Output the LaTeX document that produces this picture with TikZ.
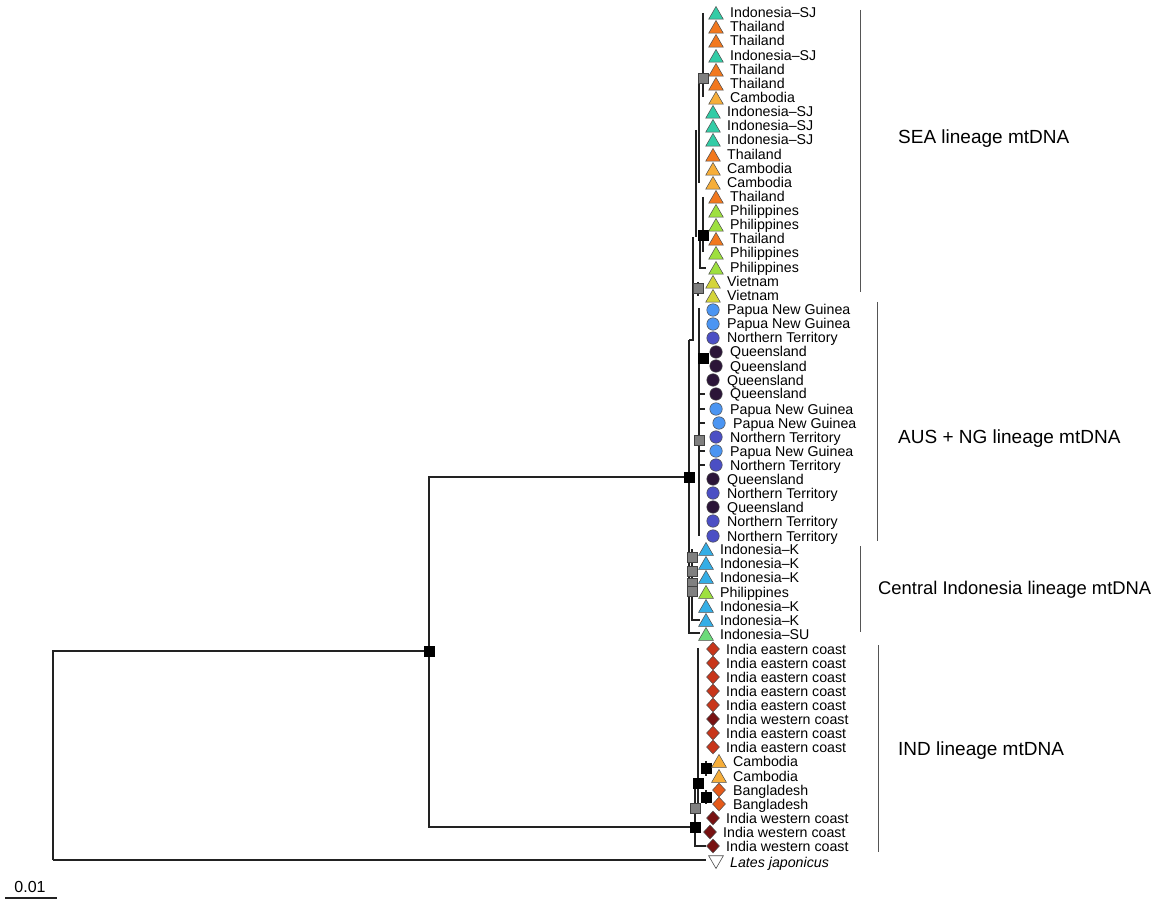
\documentclass[tikz,border=0pt]{standalone}
\usepackage{fontspec}
\setmainfont{Liberation Sans}
\usetikzlibrary{shapes.geometric}
\definecolor{csj}{HTML}{33CCA6}
\definecolor{cth}{HTML}{F2781E}
\definecolor{cca}{HTML}{F6AE3A}
\definecolor{cph}{HTML}{9EE03F}
\definecolor{cvn}{HTML}{D4D43A}
\definecolor{cpng}{HTML}{4B95F2}
\definecolor{cnt}{HTML}{4B4FC4}
\definecolor{cqld}{HTML}{2B1538}
\definecolor{cik}{HTML}{34AEE6}
\definecolor{cisu}{HTML}{6CDB7A}
\definecolor{cie}{HTML}{C8361B}
\definecolor{ciw}{HTML}{781212}
\definecolor{cbd}{HTML}{E55A1A}
\definecolor{clin}{HTML}{222222}
\definecolor{cbar}{HTML}{555555}
\tikzset{
  br/.style={line width=1.3pt, draw=clin},
  cladebar/.style={line width=1pt, draw=cbar},
  sqb/.style={rectangle, fill=black, draw=black, line width=0.4pt, minimum size=10pt, inner sep=0pt},
  sqg/.style={rectangle, fill=gray, draw=black!75, line width=0.6pt, minimum size=10pt, inner sep=0pt},
  tri/.style={regular polygon, regular polygon sides=3, draw=black!70, line width=0.5pt, inner sep=0pt, minimum size=17pt, yshift=-2pt},
  cir/.style={circle, draw=black!70, line width=0.5pt, inner sep=0pt, minimum size=12.5pt},
  dia/.style={diamond, draw=black!70, line width=0.5pt, inner sep=0pt, minimum width=13pt, minimum height=14pt},
  msj/.style={tri, fill=csj}, mth/.style={tri, fill=cth}, mca/.style={tri, fill=cca},
  mph/.style={tri, fill=cph}, mvn/.style={tri, fill=cvn}, mik/.style={tri, fill=cik},
  misu/.style={tri, fill=cisu},
  mpng/.style={cir, fill=cpng}, mnt/.style={cir, fill=cnt}, mqld/.style={cir, fill=cqld},
  mie/.style={dia, fill=cie}, miw/.style={dia, fill=ciw}, mbd/.style={dia, fill=cbd},
  tiplab/.style={anchor=base west, inner sep=0pt, font=\fontsize{14.2}{15}\selectfont, yshift=-5pt},
  cladelab/.style={anchor=base west, inner sep=0pt, font=\fontsize{19}{20}\selectfont, yshift=-7pt}
}
\begin{document}
\begin{tikzpicture}[x=1pt,y=-1pt]
\useasboundingbox (0,0) rectangle (1157,901);
% main coordinates
\coordinate (r0) at (53,651);
\coordinate (r1) at (53,860);
\coordinate (lj) at (706,860);
\coordinate (n1c) at (429,651);
\coordinate (n2c) at (689,477);
\coordinate (n3c) at (695,827);
\coordinate (n1t) at (429,477);
\coordinate (n1b) at (429,827);
% main branches
\draw[br] (r1) -- (r0) -- (n1c);
\draw[br] (r1) -- (lj);
\draw[br] (n1c) -- (n1t) -- (n2c);
\draw[br] (n1c) -- (n1b) -- (n3c);
% SEA ladder
\draw[br] (703,13) -- (703,97);
\draw[br] (699,78) -- (699,183);
\draw[br] (696,130) -- (696,237);
\draw[br] (703,197) -- (703,252);
\draw[br] (700,235) -- (700,268) -- (706,268);
\draw[br] (693,237) -- (693,340) -- (689,340);
\draw[br] (698,282) -- (698,296);
% AUS ladder
\draw[br] (699,308) -- (699,536);
\draw[br] (689,340) -- (689,633) -- (700,633);
\foreach \yy in {394,409,423,451,465} \draw[br] (699,\yy) -- (705,\yy);
% Central ladder
\draw[br] (692,549) -- (692,620) -- (700,620);
% IND ladder
\draw[br] (698,648) -- (698,808);
\draw[br] (706,761) -- (706,776);
\draw[br] (706,790) -- (706,804);
\draw[br] (695,783) -- (695,846) -- (706,846);
% squares
\node[sqb] (n1) at (n1c) {};
\node[sqb] (n2) at (n2c) {};
\node[sqb] (n3) at (n3c) {};
\node[sqg] (s1) at (703,78) {};
\node[sqb] (s2) at (703,235) {};
\node[sqg] (s3) at (698,288) {};
\node[sqb] (s4) at (703,358) {};
\node[sqg] (s5) at (699,440) {};
\node[sqg] (s6) at (692,557) {};
\node[sqg] (s7) at (692,571) {};
\node[sqg] (s8) at (692,583) {};
\node[sqg] (s9) at (692,591) {};
\node[sqb] (s10) at (706,768) {};
\node[sqb] (s11) at (698,783) {};
\node[sqb] (s12) at (706,797) {};
\node[sqg] (s13) at (695,808) {};
% tips
\foreach \y/\mx/\tx/\st/\lab [count=\i] in {
13/716/730/msj/Indonesia–SJ,
27/716/730/mth/Thailand,
41/716/730/mth/Thailand,
56/716/730/msj/Indonesia–SJ,
70/716/730/mth/Thailand,
84/716/730/mth/Thailand,
98/716/730/mca/Cambodia,
112/713/727/msj/Indonesia–SJ,
126/713/727/msj/Indonesia–SJ,
140/713/727/msj/Indonesia–SJ,
155/713/727/mth/Thailand,
169/713/727/mca/Cambodia,
183/713/727/mca/Cambodia,
197/716/730/mth/Thailand,
211/716/730/mph/Philippines,
225/716/730/mph/Philippines,
239/716/730/mth/Thailand,
253/716/730/mph/Philippines,
268/716/730/mph/Philippines,
282/713/727/mvn/Vietnam,
296/713/727/mvn/Vietnam,
310/713/727/mpng/Papua New Guinea,
324/713/727/mpng/Papua New Guinea,
338/713/727/mnt/Northern Territory,
352/716/730/mqld/Queensland,
366/716/730/mqld/Queensland,
380/713/727/mqld/Queensland,
394/716/730/mqld/Queensland,
409/716/730/mpng/Papua New Guinea,
423/719/733/mpng/Papua New Guinea,
437/716/730/mnt/Northern Territory,
451/716/730/mpng/Papua New Guinea,
465/716/730/mnt/Northern Territory,
479/713/727/mqld/Queensland,
493/713/727/mnt/Northern Territory,
507/713/727/mqld/Queensland,
521/713/727/mnt/Northern Territory,
536/713/727/mnt/Northern Territory,
549/706/720/mik/Indonesia–K,
563/706/720/mik/Indonesia–K,
577/706/720/mik/Indonesia–K,
592/706/720/mph/Philippines,
606/706/720/mik/Indonesia–K,
620/706/720/mik/Indonesia–K,
634/706/720/misu/Indonesia–SU,
649/713/726/mie/India eastern coast,
663/713/726/mie/India eastern coast,
677/713/726/mie/India eastern coast,
691/713/726/mie/India eastern coast,
705/713/726/mie/India eastern coast,
719/713/726/miw/India western coast,
733/713/726/mie/India eastern coast,
747/713/726/mie/India eastern coast,
761/719/733/mca/Cambodia,
776/719/733/mca/Cambodia,
790/719/733/mbd/Bangladesh,
804/719/733/mbd/Bangladesh,
818/713/726/miw/India western coast,
832/710/723/miw/India western coast,
846/713/726/miw/India western coast}
{
  \node[\st] (m\i) at (\mx,\y) {};
  \node[tiplab] (t\i) at (\tx,\y) {\lab};
}
% outgroup
\node[regular polygon, regular polygon sides=3, shape border rotate=180, draw=black!70, fill=white, line width=0.6pt, inner sep=0pt, minimum size=17pt, yshift=2pt] (m61) at (716,862) {};
\node[tiplab] (t61) at (730,862) {\textit{Lates japonicus}};
% clade bars
\coordinate (b1a) at (860,10);  \coordinate (b1b) at (860,292);
\coordinate (b2a) at (877,302); \coordinate (b2b) at (877,541);
\coordinate (b3a) at (860,546); \coordinate (b3b) at (860,632);
\coordinate (b4a) at (878,645); \coordinate (b4b) at (878,852);
\draw[cladebar] (b1a) -- (b1b);
\draw[cladebar] (b2a) -- (b2b);
\draw[cladebar] (b3a) -- (b3b);
\draw[cladebar] (b4a) -- (b4b);
\node[cladelab] (c1) at (898,137) {SEA lineage mtDNA};
\node[cladelab] (c2) at (898,436) {AUS + NG lineage mtDNA};
\node[cladelab, font=\fontsize{18.4}{20}\selectfont] (c3) at (878,587) {Central Indonesia lineage mtDNA};
\node[cladelab] (c4) at (898,748) {IND lineage mtDNA};
% scale bar
\coordinate (sa) at (5,898);
\coordinate (sb) at (57,898);
\draw[line width=1.2pt, draw=clin] (sa) -- (sb);
\node[anchor=base, inner sep=0pt, font=\fontsize{16}{17}\selectfont] (sl) at (30,892) {0.01};
\end{tikzpicture}
\end{document}
